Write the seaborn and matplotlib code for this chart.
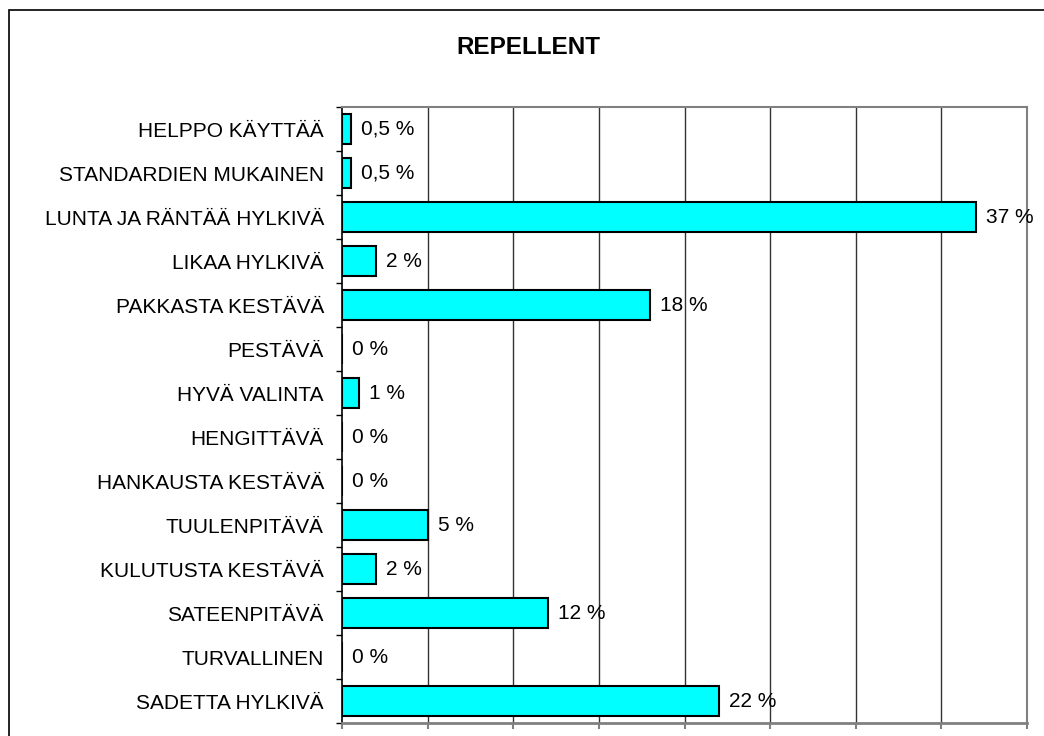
import numpy as np
import pandas as pd
import seaborn as sns
import matplotlib.pyplot as plt
from matplotlib.patches import Rectangle

categories = ["HELPPO KÄYTTÄÄ", "STANDARDIEN MUKAINEN", "LUNTA JA RÄNTÄÄ HYLKIVÄ",
              "LIKAA HYLKIVÄ", "PAKKASTA KESTÄVÄ", "PESTÄVÄ", "HYVÄ VALINTA",
              "HENGITTÄVÄ", "HANKAUSTA KESTÄVÄ", "TUULENPITÄVÄ", "KULUTUSTA KESTÄVÄ",
              "SATEENPITÄVÄ", "TURVALLINEN", "SADETTA HYLKIVÄ"]
values = [0.5, 0.5, 37, 2, 18, 0, 1, 0, 0, 5, 2, 12, 0, 22]
gridlines = [0, 5, 10, 15, 20, 25, 30, 35, 40]

df = pd.DataFrame({"category": categories, "value": values})

sns.set_style("white")
plt.rcParams['font.family'] = ['Liberation Sans', 'DejaVu Sans']
plt.rcParams['text.color'] = 'black'

fig = plt.figure(figsize=(10.44, 7.36), dpi=100)
ax = fig.add_axes([342/1044, 1 - 723/736, (1027-342)/1044, (723-107)/736])

sns.barplot(data=df, x="value", y="category", orient="h", color="#00FFFF",
            saturation=1, edgecolor="black", linewidth=1.5, width=0.68, ax=ax, zorder=3)

ax.set_xlim(0, 40)
ax.set_ylim(len(categories) - 0.5, -0.5)
ax.set_xlabel("")
ax.set_ylabel("")

# vertical gridlines
for g in gridlines[1:-1]:
    ax.axvline(g, color="#333333", lw=1, zorder=1)

# value labels
labels = [f"{v:g} %".replace(".", ",") for v in values]
for i, (v, lab) in enumerate(zip(values, labels)):
    ax.annotate(lab, (v, i), xytext=(10, 0), textcoords="offset pixels",
                va="center", ha="left", fontsize=15, color="black")

# axes styling
for s in ["top", "right", "bottom"]:
    ax.spines[s].set_color("#808080")
    ax.spines[s].set_linewidth(1.5)
ax.spines["bottom"].set_linewidth(2)
ax.spines["left"].set_color("black")
ax.spines["left"].set_linewidth(1.2)

ax.set_xticks(gridlines)
ax.set_xticklabels([])
ax.tick_params(axis="x", which="major", bottom=True, length=4, color="#808080", width=1.5)

ax.set_yticks(range(len(categories)))
ax.set_yticklabels(categories, fontsize=15, color="black")
ax.tick_params(axis="y", which="major", length=0, pad=13)
ax.set_yticks(np.arange(-0.5, len(categories), 1), minor=True)
ax.tick_params(axis="y", which="minor", left=True, length=4, color="black", width=1)

fig.text(528/1044, 1 - 48/736, "REPELLENT", ha="center", va="center",
         fontsize=17.5, fontweight="bold", color="black")

# frame around the chart area
fig.add_artist(Rectangle((9/1044, -0.1), 1.2, 1.1 - 10/736, transform=fig.transFigure,
                         fill=False, edgecolor="black", lw=1.2))

fig.savefig("out.png", dpi=100)
